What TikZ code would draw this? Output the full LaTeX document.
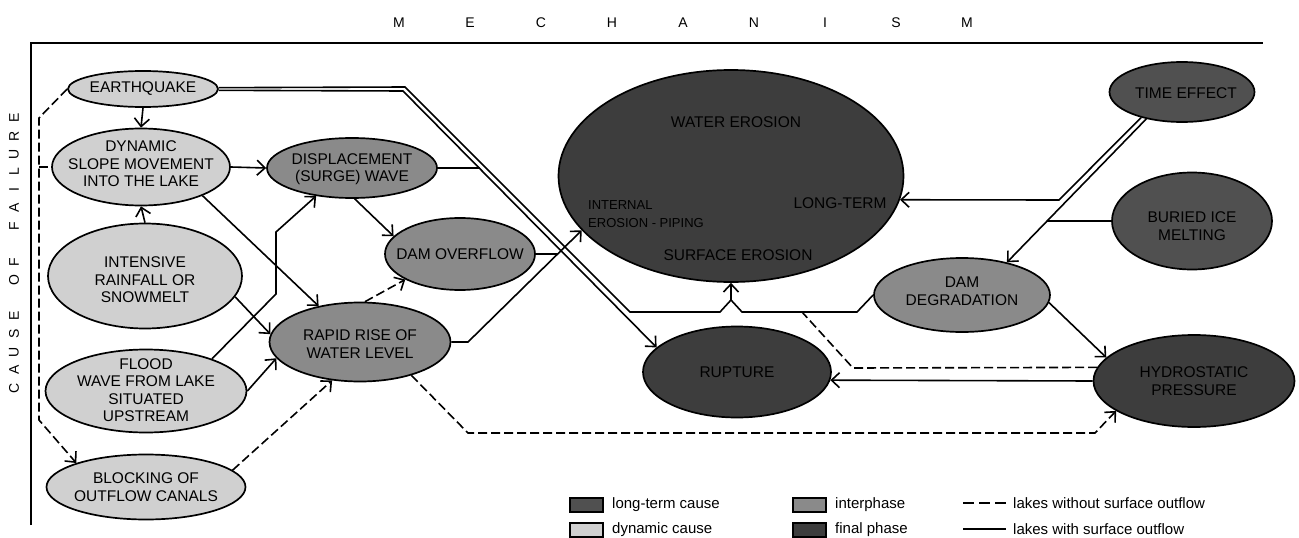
\documentclass[tikz,border=0pt]{standalone}
\usepackage{fontspec}
\setmainfont{Liberation Sans}
\usetikzlibrary{shapes.geometric,arrows.meta}
\definecolor{dyncol}{HTML}{D0D0D0}
\definecolor{intercol}{HTML}{8A8A8A}
\definecolor{longcol}{HTML}{505050}
\definecolor{finalcol}{HTML}{3D3D3D}
\begin{document}
\begin{tikzpicture}[x=1pt,y=-1pt,
  el/.style={ellipse, draw=black, line width=1.7pt, inner sep=0pt},
  sz/.style 2 args={minimum width=#1pt, minimum height=#2pt},
  lab/.style={font=\fontsize{15.5}{17.5}\selectfont, align=center, inner sep=0pt},
  leg/.style={font=\fontsize{15}{17}\selectfont, inner sep=0pt, anchor=west},
  letter/.style={font=\fontsize{14}{16}\selectfont, inner sep=0pt},
  con/.style={line width=1.6pt, -{Straight Barb[length=8pt,width=15pt]}},
  plain/.style={line width=1.6pt},
  dsh/.style={dash pattern=on 9pt off 4pt},
  legbox/.style={draw, line width=1.2pt, minimum width=33pt, minimum height=14pt, inner sep=0pt},
]
\useasboundingbox (0,0) rectangle (1299,538);
\fill[white] (0,0) rectangle (1299,538);

% frame
\draw[line width=1.8pt] (31,525) -- (31,43) -- (1263,43);

% titles
\foreach \l [count=\i] in {M,E,C,H,A,N,I,S,M}
  \node[letter] (mech\i) at ({399+71*(\i-1)},23) {\l};
\foreach \l/\k [count=\i] in {C/0,A/1,U/2,S/3,E/4,O/6,F/7,F/9,A/10,I/11,L/12,U/13,R/14,E/15}
  \node[letter, rotate=90] (cause\i) at (14,{388-18*\k}) {\l};

% nodes
\node[el, fill=dyncol, sz={150}{36}] (eq) at (143,89) {};
\node[lab] (eqt) at (eq) {EARTHQUAKE};
\node[el, fill=dyncol, sz={178}{77}] (dyn) at (141,167) {};
\node[lab] (dynt) at (141,164) {DYNAMIC\\SLOPE MOVEMENT\\INTO THE LAKE};
\node[el, fill=dyncol, sz={194}{105}] (intn) at (145,276) {};
\node[lab] (intnt) at (145,280) {INTENSIVE\\RAINFALL OR\\SNOWMELT};
\node[el, fill=dyncol, sz={201}{83}] (flood) at (146,391) {};
\node[lab] (floodt) at (146,390) {FLOOD\\WAVE FROM LAKE\\SITUATED\\UPSTREAM};
\node[el, fill=dyncol, sz={199}{65}] (block) at (146,487) {};
\node[lab] (blockt) at (146,487) {BLOCKING OF\\OUTFLOW CANALS};

\node[el, fill=intercol, sz={170}{60}] (disp) at (352,168) {};
\node[lab] (dispt) at (352,169) {DISPLACEMENT\\(SURGE) WAVE};
\node[el, fill=intercol, sz={150}{72}] (dover) at (460,254) {};
\node[lab] (dovert) at (dover) {DAM OVERFLOW};
\node[el, fill=intercol, sz={181}{79}] (rapid) at (360,342) {};
\node[lab] (rapidt) at (360,344) {RAPID RISE OF\\WATER LEVEL};
\node[el, fill=intercol, sz={176}{74}] (ddeg) at (962,295) {};
\node[lab] (ddegt) at (962,291) {DAM\\DEGRADATION};

\node[el, fill=finalcol, sz={345}{212}] (wero) at (731,176) {};
\node[lab] (w1) at (736,122) {WATER EROSION};
\node[lab, align=left, anchor=west, font=\fontsize{13}{17.5}\selectfont] (w2) at (588,214) {INTERNAL\\EROSION - PIPING};
\node[lab] (w3) at (840,203) {LONG-TERM};
\node[lab] (w4) at (738,255) {SURFACE EROSION};
\node[el, fill=finalcol, sz={188}{91}] (rupt) at (737,372) {};
\node[lab] (ruptt) at (rupt) {RUPTURE};
\node[el, fill=finalcol, sz={201}{92}] (hydro) at (1194,381) {};
\node[lab] (hydrot) at (1194,381) {HYDROSTATIC\\PRESSURE};

\node[el, fill=longcol, sz={145}{60}] (time) at (1182,92) {};
\node[lab] (timet) at (1186,93) {TIME EFFECT};
\node[el, fill=longcol, sz={160}{97}] (ice) at (1192,221) {};
\node[lab] (icet) at (1192,226) {BURIED ICE\\MELTING};

% bend coordinates
\coordinate (f1) at (276,294);
\coordinate (f2) at (276,232);
\coordinate (r1) at (468,342);
\coordinate (j1) at (558,254);
\coordinate (u1) at (405,87);
\coordinate (u2) at (630,312);
\coordinate (u3) at (720,312);
\coordinate (u4) at (731,300);
\coordinate (l1) at (403,91);
\coordinate (j2) at (480,168);
\coordinate (a1) at (1059,200);
\coordinate (j3) at (1047,221);
\coordinate (d1) at (857,312);
\coordinate (d2) at (742,312);
\coordinate (h1) at (853,368);
\coordinate (h2) at (802,312);
\coordinate (q1) at (468,433);
\coordinate (q2) at (1095,433);
\coordinate (e1) at (39,118);
\coordinate (e2) at (39,420);
\coordinate (e3) at (39,167);

% connectors
\draw[con] (eq.south) -- (dyn.north);
\draw[con] (intn.north) -- (dyn.south);
\draw[con] (dyn.east) -- (disp.west);
\draw[con] (dyn.-25) -- (rapid.139);
\draw[con] (intn.-13) -- (rapid.175);
\draw[con] (flood.26) -- (f1) -- (f2) -- (disp.218);
\draw[con] (flood.east) -- (rapid.191);
\draw[con,dsh] (block.11) -- (rapid.234);
\draw[con,dsh] (rapid.83) -- (dover.205);
\draw[con] (rapid.east) -- (r1) -- (wero.200);
\draw[plain] (dover.east) -- (j1);
\draw[con] (disp.-85) -- (dover.165);
\draw[con] (eq.1.5) -- (u1) -- (u2) -- (u3) -- (u4) -- (wero.south);
\draw[con] (eq.-1.5) -- (l1) -- (rupt.163);
\draw[plain] (disp.east) -- (j2);
\draw[con] (time.212) -- (a1) -- (wero.-8);
\draw[con] (time.217) -- (ddeg.36);
\draw[plain] (ice.west) -- (j3);
\draw[plain] (ddeg.west) -- (d1) -- (d2) -- (u4);
\draw[plain,dsh] (hydro.172) -- (h1) -- (h2);
\draw[con] (hydro.west) -- (rupt.-5);
\draw[con] (ddeg.-5) -- (hydro.165);
\draw[con,dsh] (rapid.-33) -- (q1) -- (q2) -- (hydro.201);
\draw[con,dsh] (eq.west) -- (e1) -- (e2) -- (block.161);
\draw[plain,dsh] (e3) -- (dyn.west);

% legend
\node[legbox, fill=longcol] (lg1) at (586.5,505) {};
\node[leg] (lg1t) at (612,505) {long-term cause};
\node[legbox, fill=dyncol] (lg2) at (586.5,530) {};
\node[leg] (lg2t) at (612,530) {dynamic cause};
\node[legbox, fill=intercol] (lg3) at (809.5,505) {};
\node[leg] (lg3t) at (835,505) {interphase};
\node[legbox, fill=finalcol] (lg4) at (809.5,530) {};
\node[leg] (lg4t) at (835,530) {final phase};
\coordinate (ls1) at (963,503);
\coordinate (ls2) at (1006,503);
\coordinate (ls3) at (963,529);
\coordinate (ls4) at (1006,529);
\draw[plain, dash pattern=on 11pt off 5pt] (ls1) -- (ls2);
\draw[plain] (ls3) -- (ls4);
\node[leg] (lg5t) at (1013,503) {lakes without surface outflow};
\node[leg] (lg6t) at (1013,529) {lakes with surface outflow};
\end{tikzpicture}
\end{document}
